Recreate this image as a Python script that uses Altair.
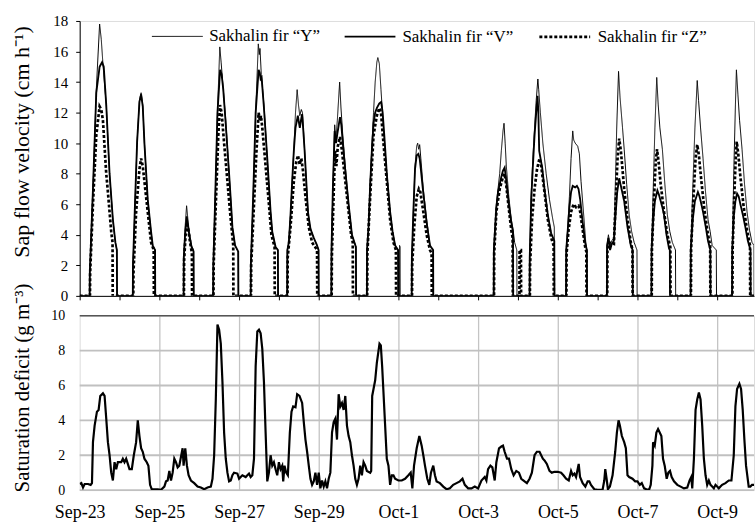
import json
import altair as alt
import pandas as pd

SERIES = ["Sakhalin fir \u201cY\u201d", "Sakhalin fir \u201cV\u201d", "Sakhalin fir \u201cZ\u201d"]

# Sap flow velocity (cm h-1): (day index from Sep-23, [(hour of day, value), ...])
Y_DAYS = [
    (0, [(6.0, 0), (6.1, 1.5), (8, 7), (10, 13.5), (12, 17.8), (13, 16.8), (14, 15.2), (16, 12.5), (18, 8), (20, 5), (21.5, 3.5), (22.4, 3.0), (22.5, 0)]),
    (1, [(8.0, 0), (8.1, 2), (9.4, 6.3), (10.6, 10.1), (12, 12.8), (13, 13.3), (14, 12.5), (15, 10), (17, 6.3), (19, 4.2), (20, 3.3), (21.4, 3.0), (21.5, 0)]),
    (2, [(14.6, 0), (14.7, 2.5), (15.5, 4.5), (16.4, 5.9), (17.2, 5), (18, 4.2), (19.4, 3.3), (20.6, 3.0), (20.7, 0)]),
    (3, [(8.4, 0), (8.5, 2), (9.6, 6.3), (11, 12), (12.4, 16.3), (13.2, 15.3), (14, 14.2), (16, 11.5), (18, 8), (19, 6.3), (20, 4.5), (21.6, 3.3), (23.5, 2.9), (23.6, 0)]),
    (4, [(7.0, 0), (7.1, 2), (8.5, 6.5), (10, 12), (11.6, 16.5), (12.2, 15.8), (12.6, 16.2), (13.4, 14.5), (15, 12.5), (17, 9), (19, 5.5), (20, 4.2), (22, 3.2), (23.4, 3.0), (23.5, 0)]),
    (5, [(5.0, 0), (5.1, 3.0), (6, 3.5), (7, 5.3), (8, 7.5), (9, 9.6), (10, 12), (11, 13.5), (11.8, 12.5), (12.6, 11.8), (13.5, 12.2), (14.2, 12), (15, 10.5), (16, 8.5), (17, 6.5), (18, 5), (19, 4.4), (21, 3.8), (23, 3.3), (23.9, 3.0), (24.0, 0)]),
    (6, [(7.6, 0), (7.7, 3), (8.5, 7), (9.6, 11.2), (10.4, 10.3), (11.2, 11.5), (12.6, 14.0), (13.4, 12.3), (14.5, 10.5), (16, 8.5), (18, 6), (20, 4.0), (21.5, 3.5), (22.4, 3.2), (22.5, 0)]),
    (7, [(5.0, 0), (5.1, 3), (6, 4.5), (7, 7.5), (8, 9.8), (9, 12), (10, 14), (11, 15.3), (11.6, 15.6), (12.5, 15.2), (13.5, 13.5), (15, 11), (17, 8), (19, 5.5), (20.5, 4.2), (22, 3.3), (23.8, 3.0), (23.9, 0), (24.6, 0), (24.7, 3.3), (25.0, 3.2), (25.1, 0)]),
    (8, [(8.0, 0), (8.1, 2.5), (9, 5.5), (10, 8.5), (11, 9.8), (11.6, 10.0), (12.2, 9.6), (12.8, 9.9), (13.5, 9), (15, 7), (17, 5), (19, 3.3), (20.9, 3.0), (21.0, 0)]),
    (10, [(9.4, 0), (9.5, 3), (10, 4), (11, 6), (12, 7), (13, 8), (14, 9.5), (15, 10.8), (15.6, 11.3), (16.3, 10), (17, 8.5), (18.5, 6.5), (20, 5), (21, 4.4), (22, 3.5), (23.3, 3.0), (23.4, 0)]),
    (11, [(7.0, 0), (7.1, 2.5), (8, 6.7), (9, 9), (10, 11), (11, 12.8), (12, 14.2), (12.5, 13.5), (13.5, 12), (15, 10), (17, 8), (19, 6.3), (21, 5.0), (21.9, 4.5), (22, 0)]),
    (12, [(5.0, 0), (5.1, 3), (6, 4.5), (7, 6.5), (8, 9), (9, 10.8), (9.6, 10.2), (10.5, 10), (12, 9.8), (13, 9.3), (14, 7.5), (15.6, 5.3), (17, 3.3), (17.5, 3.0), (17.6, 0)]),
    (13, [(5.6, 0), (5.7, 3.3), (6.5, 4.0), (7.5, 3.3), (8.5, 3.6), (9.8, 3.8), (10.6, 7), (11.5, 11), (12.6, 14.7), (13.5, 13), (15, 11), (16, 9.6), (17.5, 7.3), (19, 5.3), (20.5, 4.2), (22, 3.5), (23.7, 3.0), (23.8, 0)]),
    (14, [(8.4, 0), (8.5, 3), (9.5, 7), (10.5, 11), (11.6, 14.3), (12.5, 12.5), (13.5, 11), (15, 9.6), (16.5, 7.3), (18, 5.3), (19.5, 4.2), (21, 3.5), (22.9, 3.0), (23, 0)]),
    (15, [(8.0, 0), (8.1, 3), (9.3, 7), (10.6, 11), (12, 14.1), (12.8, 12.8), (14, 11), (15.5, 9), (17, 6.8), (18.5, 5), (19.8, 4.2), (21, 3.3), (23.5, 3.0), (23.6, 0)]),
    (16, [(9.0, 0), (9.1, 3), (10, 8), (11, 12.5), (11.6, 14.8), (12.5, 13.2), (13.5, 11.5), (15, 9.6), (16.5, 7.3), (18, 5.5), (19.5, 4.3), (21, 3.5), (22.2, 3.3), (22.3, 0)]),
]

V_DAYS = [
    (0, [(6.0, 0), (6.1, 1.5), (8, 7), (10, 13.3), (12, 15.0), (13.5, 15.3), (14.5, 15), (16, 12.5), (18, 8), (20, 5), (21.5, 3.5), (22.4, 3.0), (22.5, 0)]),
    (1, [(8.0, 0), (8.1, 2), (9.4, 6.3), (10.6, 10.1), (12, 12.7), (13, 13.2), (14, 12.4), (15, 10), (17, 6.3), (19, 4.2), (20, 3.3), (21.4, 3.0), (21.5, 0)]),
    (2, [(14.6, 0), (14.7, 2.5), (15.5, 4), (16.5, 5.2), (17.2, 4.6), (18, 4), (19.4, 3.2), (20.6, 2.9), (20.7, 0)]),
    (3, [(8.4, 0), (8.5, 2), (9.6, 6.3), (11, 12), (12.6, 14.8), (13.5, 14.5), (14.5, 13.5), (16, 11.2), (18, 8), (19, 6.3), (20, 4.5), (21.6, 3.3), (23.5, 2.9), (23.6, 0)]),
    (4, [(7.0, 0), (7.1, 2), (8.5, 6.5), (10, 12), (11.8, 14.8), (12.5, 14.6), (13, 14.2), (13.6, 14.3), (15, 12.3), (17, 9), (19, 5.5), (20, 4.2), (22, 3.2), (23.4, 3.0), (23.5, 0)]),
    (5, [(5.0, 0), (5.1, 3.0), (6, 3.5), (7, 5.3), (8, 7.5), (9, 9.5), (10, 11), (11.4, 11.8), (12.6, 11.0), (13.3, 11.5), (14, 11.9), (14.6, 11), (15.5, 9.5), (16.5, 7.5), (17.5, 5.5), (19, 4.4), (21, 3.8), (23, 3.3), (23.9, 3.0), (24.0, 0)]),
    (6, [(7.6, 0), (7.7, 3), (8.5, 7), (9.6, 10.8), (10.4, 10.0), (11.2, 10.6), (12.8, 11.7), (13.6, 11.2), (14.5, 10), (16, 8.2), (18, 6), (20, 4.0), (21.5, 3.5), (22.4, 3.2), (22.5, 0)]),
    (7, [(5.0, 0), (5.1, 3), (6, 4.5), (7, 7.3), (8, 9.5), (9, 11.3), (10, 12), (11, 12.3), (12.5, 12.6), (13.6, 12.7), (14.5, 12), (15.5, 10.5), (17, 8), (19, 5.5), (20.5, 4.2), (22, 3.3), (23.8, 3.0), (23.9, 0)]),
    (8, [(8.0, 0), (8.1, 2.5), (9, 5.5), (10, 8.3), (11, 9.2), (12, 9.3), (12.8, 9.0), (13.5, 8.3), (15, 6.7), (17, 4.8), (19, 3.3), (20.9, 3.0), (21.0, 0)]),
    (10, [(9.4, 0), (9.5, 3), (10, 4), (11, 5.8), (12, 6.8), (13, 7.3), (14, 7.8), (15, 8.2), (16, 8.4), (17, 7.5), (18.5, 6), (20, 4.8), (21, 4.2), (21.1, 0)]),
    (11, [(7.0, 0), (7.1, 2.5), (8, 6.3), (9, 8.5), (10, 10.5), (11, 12), (11.8, 13.1), (12.3, 12), (12.8, 9.5), (13.6, 9.0), (14.6, 8.4), (16, 7), (18, 5.3), (20, 4.1), (21.9, 3.6), (22, 0)]),
    (12, [(5.0, 0), (5.1, 3), (6, 4.3), (7, 5.8), (8, 6.8), (9, 7.2), (10.5, 7.1), (11.5, 7.2), (12.5, 7.0), (13.5, 6.3), (15, 4.8), (16.5, 3.5), (17.5, 3.0), (17.6, 0)]),
    (13, [(5.6, 0), (5.7, 3.3), (6.5, 3.8), (7.5, 3.0), (8.5, 3.4), (9.8, 3.6), (10.6, 5), (11.8, 6.8), (13, 7.7), (14, 7.2), (16, 6.2), (18, 4.5), (20, 3.3), (21.1, 3.0), (21.2, 0)]),
    (14, [(8.4, 0), (8.5, 3), (9.5, 5), (10.5, 6.2), (12, 6.9), (13, 6.6), (14, 6.2), (15, 5.8), (16, 5.3), (17.5, 4), (19, 3.1), (19.5, 3.0), (19.6, 0)]),
    (15, [(8.0, 0), (8.1, 3), (9.3, 5), (10.6, 6.2), (12.4, 6.8), (13.4, 6.5), (14.5, 6), (15.5, 5.5), (17, 4.6), (18.5, 3.6), (19.9, 3.0), (20, 0)]),
    (16, [(9.0, 0), (9.1, 3), (10, 5.2), (11, 6.2), (12, 6.7), (13, 6.5), (14, 6), (15.5, 5.3), (17, 4.5), (18.5, 3.6), (20.1, 3.0), (20.2, 0)]),
]

Z_DAYS = [
    (0, [(6.2, 0), (6.3, 1.5), (8, 6), (10, 10.5), (12, 12.4), (13, 12.2), (14, 11.5), (16, 8), (17, 6.8), (18, 5.5), (19, 4.2), (19.8, 3.5), (19.9, 0)]),
    (1, [(8.3, 0), (8.4, 1.5), (10, 5.5), (12, 8.3), (13, 9.0), (14, 8.5), (15, 7.5), (17, 5.5), (19, 3.5), (20.6, 3.0), (20.7, 0)]),
    (2, [(14.8, 0), (14.9, 2.3), (15.8, 4), (16.6, 4.8), (17.5, 4.3), (18.5, 3.5), (19.6, 2.8), (19.7, 0)]),
    (3, [(8.6, 0), (8.7, 2), (10, 6), (11.5, 10.5), (12.5, 12.5), (13.5, 12), (15, 10), (17, 7.5), (19, 5), (20.5, 3.3), (20.6, 0)]),
    (4, [(7.2, 0), (7.3, 2), (9, 6), (10.5, 9.5), (11.8, 12), (12.5, 11.5), (13.2, 11.8), (14, 11), (16, 8.5), (18, 6), (19.5, 4), (21.4, 3.2), (21.5, 0)]),
    (5, [(5.2, 0), (5.3, 2.5), (7, 4.5), (9, 7.5), (10.5, 8.8), (11.5, 9.2), (12.5, 8.6), (13.5, 9), (14.5, 8.2), (16, 6.5), (18, 4.5), (20, 3.5), (23, 3.0), (23.1, 0)]),
    (6, [(7.8, 0), (7.9, 2.5), (8.8, 6), (9.8, 9.5), (10.6, 8.5), (11.5, 9.8), (12.8, 10.4), (14, 9.5), (16, 7.5), (18, 5.5), (19.5, 4), (20.5, 3.5), (20.6, 0)]),
    (7, [(5.2, 0), (5.3, 2.8), (7, 6.5), (9, 10.5), (11, 11.8), (12.5, 12.3), (13.5, 12), (15, 10), (17, 7.5), (19, 5), (21, 3.5), (22.5, 3.0), (22.6, 0)]),
    (8, [(8.2, 0), (8.3, 2), (9.5, 4.5), (11, 6.5), (12.3, 7.0), (13.2, 6.8), (15, 5.5), (17, 4), (19, 3), (20, 2.8), (20.1, 0)]),
    (10, [(9.6, 0), (9.7, 2.8), (11, 5.5), (13, 7), (15, 7.8), (16, 8.0), (17, 7.2), (18.5, 5.7), (20, 4.3), (20.8, 3.8), (20.9, 0), (24.9, 0), (25.0, 3), (25.8, 3), (25.9, 0)]),
    (11, [(7.2, 0), (7.3, 2), (8.5, 5), (10, 7), (11.5, 8.3), (13, 9.0), (14, 8.5), (16, 6.8), (18, 5), (20, 3.8), (21.5, 3.3), (21.6, 0)]),
    (12, [(5.2, 0), (5.3, 2.8), (6.5, 4.3), (8, 5.5), (9.5, 6.0), (11, 5.8), (12.5, 5.9), (13.5, 5.5), (15, 4.3), (16.5, 3.2), (17.2, 2.9), (17.3, 0)]),
    (13, [(5.8, 0), (5.9, 3.0), (7, 3.5), (9.8, 3.4), (10.8, 6), (12, 9), (13, 10.3), (14, 9.5), (16, 7), (18, 5), (20, 3.5), (21, 3.0), (21.1, 0)]),
    (14, [(8.6, 0), (8.7, 3), (9.8, 6), (11, 8.8), (11.8, 9.6), (12.8, 8.7), (14, 7.3), (16, 5.5), (18, 4), (19.8, 3.2), (19.9, 0)]),
    (15, [(8.2, 0), (8.3, 3), (9.5, 6), (11, 9), (12, 9.9), (13, 9.2), (14.5, 7.5), (16.5, 5.5), (18.5, 4), (19.8, 3.3), (19.9, 0)]),
    (16, [(9.2, 0), (9.3, 3), (10.3, 6.5), (11.2, 9), (11.8, 10.1), (12.8, 9.2), (14, 7.8), (16, 5.8), (18, 4.3), (19.8, 3.3), (19.9, 0)]),
]

# Saturation deficit (g m-3): hours since Sep-23 00:00 and values
SD_HOURS = [0, 1, 2, 3, 5, 6.6, 7.4, 8, 9, 10.4, 11.4, 12.4, 14, 15, 16, 17, 18, 19, 20, 21, 22, 23, 25, 26, 27, 28, 29, 30, 31.4, 32.6, 34, 35, 36, 37, 38, 39, 40.4, 41.4, 42.4, 43.4, 45, 47, 49, 51, 52, 53, 54, 55, 56, 57, 58, 59, 60, 61, 62, 62.6, 63.6, 64.6, 65.6, 67, 69, 71, 73, 75, 77, 79, 80, 81, 82, 83, 84, 85, 86, 87, 88, 89, 90, 91, 92, 93, 95, 96, 97, 98, 100, 101, 102, 103, 104, 105, 106, 107, 108, 109, 110, 111, 112, 113, 114, 115, 116, 117, 118, 119, 120, 121, 122, 122.6, 123.4, 124.4, 125.4, 126.6, 127.6, 128.6, 130, 131, 132.4, 134, 135, 136, 137, 138, 139, 140, 141, 142, 143, 144, 145, 146, 147, 148, 149, 150, 151, 152, 153, 154, 155, 156, 157, 158, 159, 160, 161, 162, 163, 164, 165, 166, 167, 168, 169, 170, 171, 172, 173, 175, 175.6, 176.2, 177, 178, 179, 180.6, 181.4, 182.2, 183, 184, 185, 186, 187, 188, 189, 190, 192, 194, 196, 198, 199.4, 200.4, 201.4, 203, 204.6, 206, 207, 208, 209.4, 210.6, 211.6, 213, 214, 215, 217, 219, 221, 223, 225, 227, 229, 230.6, 232, 234, 236, 238, 240, 242, 244, 245, 246, 247.4, 248.6, 250, 251, 252.6, 254, 255, 256, 257.4, 258.6, 260, 261.4, 263, 264.6, 266, 268, 269.4, 271, 272.4, 274, 275.4, 277, 278, 279, 280, 281.4, 283, 284.4, 286, 288, 290, 291.4, 293, 294.6, 296, 297, 298, 299, 300.6, 301.4, 303, 304.6, 306, 307, 308, 310, 312, 314, 315, 316, 316.6, 317.4, 318.2, 319.4, 321, 322.6, 323.6, 324.6, 325.4, 326.6, 328, 329, 330, 331, 333, 334.6, 336, 337.4, 338.6, 340, 341.4, 343, 344, 345, 345.4, 346.4, 347.4, 348.4, 349.4, 350.4, 351.4, 352.4, 353.6, 354.6, 355.6, 356.6, 358, 360, 362, 364, 366, 367.4, 368.4, 369, 370, 371, 372, 373, 374, 375, 376, 377, 378, 379, 380, 381, 382, 383, 384, 385, 386, 387, 389, 391, 392.6, 394, 395, 396, 397.4, 398.4, 399.4, 400.4, 401.4, 403, 404, 405, 406.6]
SD_VALUES = [0.35, 0.4, 0.15, 0.35, 0.35, 0.3, 0.4, 2.75, 3.7, 4.5, 4.6, 5.4, 5.55, 5.4, 4.1, 2.75, 2.0, 1.0, 0.55, 1.6, 1.2, 1.6, 1.6, 1.8, 1.6, 1.8, 1.5, 1.2, 1.2, 2.0, 2.75, 4.0, 3.1, 2.4, 2.2, 1.8, 1.6, 1.4, 0.3, 0.05, 0.05, 0.05, 0.02, 0.2, 0.5, 0.55, 1.1, 0.55, 1.0, 1.8, 1.6, 1.3, 1.4, 1.9, 2.4, 1.4, 2.4, 1.4, 0.85, 0.55, 0.4, 0.2, 0.15, 0.05, 0.15, 0.2, 0.65, 2.0, 5.2, 9.5, 9.2, 8.4, 6.2, 3.3, 1.8, 1.0, 0.5, 0.55, 0.85, 1.0, 0.95, 0.65, 0.75, 0.85, 0.75, 0.85, 0.95, 0.75, 0.85, 1.8, 7.1, 9.1, 9.2, 9.0, 8.1, 6.2, 3.3, 0.5, 1.0, 2.0, 1.4, 1.6, 1.2, 0.85, 1.6, 1.2, 1.4, 0.5, 1.4, 1.0, 0.85, 3.3, 4.5, 4.8, 4.75, 5.5, 5.4, 5.0, 3.9, 2.9, 2.2, 1.4, 0.65, 0.3, 0.5, 1.0, 0.3, 1.0, 0.1, 0.55, 0.2, 0.5, 0.1, 0.65, 1.0, 3.3, 3.9, 4.1, 2.9, 5.5, 4.8, 5.0, 4.6, 5.4, 3.7, 3.1, 2.75, 2.0, 1.4, 0.65, 0.3, 0.65, 1.4, 0.85, 1.6, 1.4, 1.1, 1.0, 1.1, 5.4, 5.8, 6.3, 7.3, 8.4, 8.3, 7.1, 5.6, 3.7, 1.8, 1.4, 0.3, 0.85, 0.85, 0.65, 0.55, 0.55, 0.65, 0.85, 1.0, 0.1, 1.4, 2.4, 3.1, 2.55, 2.0, 1.4, 0.65, 0.3, 1.0, 1.4, 0.85, 0.5, 0.4, 0.2, 0.05, 0.1, 0.3, 0.4, 0.5, 0.65, 0.3, 0.1, 0.1, 0.2, 0.1, 0.55, 0.75, 0.55, 1.2, 1.4, 1.3, 0.55, 1.6, 2.4, 2.5, 2.55, 2.2, 1.8, 1.8, 1.2, 0.85, 1.1, 1.0, 0.65, 0.5, 0.4, 0.65, 1.0, 2.0, 2.2, 2.2, 2.0, 1.8, 1.7, 1.5, 1.1, 1.0, 1.05, 1.05, 1.0, 0.85, 0.65, 0.55, 1.1, 0.85, 0.95, 0.75, 1.5, 0.75, 0.4, 0.2, 0.5, 0.5, 0.3, 0.05, 0.02, 0.02, 0.02, 0.55, 1.2, 0.65, 0.05, 0.2, 0.85, 2.2, 3.3, 4.0, 3.7, 3.1, 2.75, 2.4, 0.85, 0.75, 0.65, 0.5, 0.5, 0.3, 0.4, 0.1, 0.05, 0.02, 0.3, 1.4, 2.75, 2.55, 3.3, 3.5, 3.3, 3.1, 1.8, 1.4, 0.65, 1.0, 1.1, 0.75, 0.5, 0.3, 0.2, 0.1, 0.15, 0.55, 0.75, 0.1, 1.8, 4.6, 5.2, 5.6, 5.2, 3.7, 1.8, 0.85, 0.3, 0.55, 0.3, 0.2, 0.1, 0.3, 0.2, 0.1, 0.2, 0.3, 0.4, 0.55, 0.55, 2.0, 4.8, 5.8, 6.1, 5.8, 4.6, 2.9, 1.4, 0.2, 0.2, 0.3, 0.3]

X_END = 406.2  # hours shown (Sep-23 00:00 to Oct-9 ~22:00)
DAY_TICKS = list(range(0, 385, 24))
LABEL_TICKS = list(range(0, 385, 48))
TICK_LABELS = ["Sep-23", "Sep-25", "Sep-27", "Sep-29", "Oct-1", "Oct-3", "Oct-5", "Oct-7", "Oct-9"]
SAP_Y_TICKS = list(range(0, 19, 2))
SD_Y_TICKS = list(range(0, 11, 2))
SD_GRID = SD_Y_TICKS[:-1]
SD_TOP = SD_Y_TICKS[-1:]

FONT = "Liberation Serif"
GRID = "#c4c4c4"
HGRID = "#c0c0c0"

rows = []
for name, days in zip(SERIES, [Y_DAYS, V_DAYS, Z_DAYS]):
    rows.append({"series": name, "hour": 0.0, "value": 0.0})
    for d, pts in days:
        for h, v in pts:
            rows.append({"series": name, "hour": d * 24 + h, "value": v})
    rows.append({"series": name, "hour": 410.0, "value": 0.0})
sap_df = pd.DataFrame(rows)
sd_df = pd.DataFrame({"hour": SD_HOURS, "value": SD_VALUES})
grid_df = pd.DataFrame({"value": SD_GRID, "start": [0.0] * len(SD_GRID), "end": [X_END] * len(SD_GRID)})
top_df = pd.DataFrame({"value": SD_TOP})

x_scale = alt.Scale(domain=[0, X_END], nice=False, zero=False)

legend = alt.Legend(
    orient="none", legendX=72, legendY=-11, direction="horizontal", title=None,
    symbolType="stroke", symbolSize=2600, symbolStrokeColor="black",
    labelFont=FONT, labelFontSize=17, labelColor="black", labelLimit=400,
    columnPadding=20, labelOffset=6, padding=0,
)

top = alt.Chart(sap_df).mark_line(color="black", clip=True).encode(
    x=alt.X("hour:Q", scale=x_scale,
            axis=alt.Axis(values=DAY_TICKS, labels=False, title=None, tickSize=4,
                          tickColor="black", domainColor="black", grid=False)),
    y=alt.Y("value:Q", scale=alt.Scale(domain=[0, 18], nice=False),
            axis=alt.Axis(values=SAP_Y_TICKS, title="Sap flow velocity (cm h\u207b\u00b9)",
                          titleFont=FONT, titleFontSize=22, titleFontWeight="normal",
                          titleColor="black", titlePadding=19, titleY=121,
                          labelFont=FONT, labelFontSize=15, labelColor="black",
                          labelPadding=8, tickSize=4, tickColor="black", labelOverlap=False,
                          domainColor="black", grid=False)),
    strokeDash=alt.StrokeDash("series:N", scale=alt.Scale(domain=SERIES, range=[[1, 0], [1, 0], [3, 2]]), legend=legend),
    strokeWidth=alt.StrokeWidth("series:N", scale=alt.Scale(domain=SERIES, range=[1.0, 2.7, 1.4]), legend=legend),
).properties(width=677, height=276)

sd_x_axis = alt.Axis(
    values=LABEL_TICKS, title=None, ticks=False, domain=False, grid=True, gridWidth=1.3,
    gridColor={"condition": {"test": "datum.value == 0", "value": "transparent"}, "value": GRID},
    labelExpr=json.dumps(TICK_LABELS) + "[round(datum.value / 48)]",
    labelFlush=False, labelOverlap=False,
    labelFont=FONT, labelFontSize=18, labelColor="black", labelPadding=14,
)
sd_y_axis = alt.Axis(
    values=SD_Y_TICKS, title="Saturation deficit (g m\u207b\u00b3)",
    titleFont=FONT, titleFontSize=21, titleFontWeight="normal",
    titleColor="black", titlePadding=18, titleY=72,
    labelFont=FONT, labelFontSize=14, labelColor="black", labelPadding=15,
    labelOverlap=False, labelFlush=False,
    ticks=False, domain=False, grid=False,
)
sd_y_scale = alt.Scale(domain=[0, 10], nice=False)

# horizontal gridlines drawn as rules spanning the x domain
grid_rules = alt.Chart(grid_df).mark_rule(color=HGRID, strokeWidth=1.8).encode(
    x=alt.X("start:Q", scale=x_scale, axis=sd_x_axis),
    x2="end:Q",
    y=alt.Y("value:Q", scale=sd_y_scale, axis=sd_y_axis),
)
sd_line = alt.Chart(sd_df).mark_line(color="black", strokeWidth=2.2, clip=True).encode(
    x=alt.X("hour:Q", scale=x_scale, axis=sd_x_axis),
    y=alt.Y("value:Q", scale=sd_y_scale, axis=sd_y_axis),
)
top_rule = alt.Chart(top_df).mark_rule(color="#555555", strokeWidth=1.5).encode(
    y=alt.Y("value:Q", scale=sd_y_scale, axis=sd_y_axis)
)
bottom = alt.layer(grid_rules, sd_line, top_rule).properties(width=677, height=175)

chart = alt.vconcat(top, bottom, spacing=20, bounds="flush").properties(
    padding={"left": 10, "top": 9, "right": 0, "bottom": 0}
).configure_view(stroke="transparent").configure(background="white", font=FONT)

chart.save("out.html", embed_options={"renderer": "svg", "actions": False})
